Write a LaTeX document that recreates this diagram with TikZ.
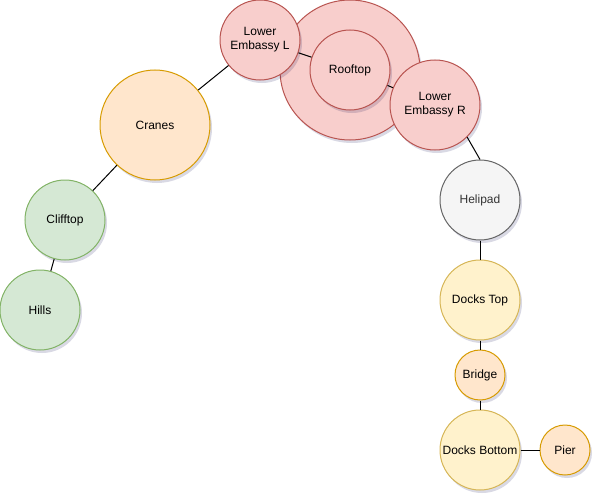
\documentclass[tikz,border=0pt]{standalone}
\usepackage{fontspec}
\setmainfont{Liberation Sans}
\usetikzlibrary{shadows}
\definecolor{redF}{HTML}{F8CECC}\definecolor{redS}{HTML}{B85450}
\definecolor{orgF}{HTML}{FFE6CC}\definecolor{orgS}{HTML}{D79B00}
\definecolor{grnF}{HTML}{D5E8D4}\definecolor{grnS}{HTML}{82B366}
\definecolor{gryF}{HTML}{F5F5F5}\definecolor{gryS}{HTML}{666666}\definecolor{gryT}{HTML}{333333}
\definecolor{ylwF}{HTML}{FFF2CC}\definecolor{ylwS}{HTML}{D6B656}
\tikzset{
  room/.style={circle, line width=1pt, inner sep=0pt, align=center,
    font=\fontsize{12}{14}\selectfont,
    drop shadow={fill=black!70!blue, opacity=0.15, shadow xshift=2pt, shadow yshift=-3pt}},
  red/.style={room, fill=redF, draw=redS},
  org/.style={room, fill=orgF, draw=orgS},
  grn/.style={room, fill=grnF, draw=grnS},
  gry/.style={room, fill=gryF, draw=gryS, text=gryT},
  ylw/.style={room, fill=ylwF, draw=ylwS},
  link/.style={line width=1pt, draw=black},
}
\begin{document}
\begin{tikzpicture}[x=1pt,y=-1pt]
\useasboundingbox (0,0) rectangle (602,503);
\node[red, minimum size=140pt] (outer) at (350,70) {};
\node[red, minimum size=80pt] (lel) at (260,40) {Lower\\Embassy L};
\node[red, minimum size=80pt] (roof) at (350,70) {Rooftop};
\node[red, minimum size=90pt] (ler) at (435,105) {Lower\\Embassy R};
\node[org, minimum size=110pt] (cranes) at (155,125) {Cranes};
\node[grn, minimum size=80pt] (cliff) at (65,220) {Clifftop};
\node[grn, minimum size=80pt] (hills) at (40,310) {Hills};
\node[gry, minimum size=80pt] (heli) at (480,200) {Helipad};
\node[ylw, minimum size=80pt] (dtop) at (480,300) {Docks Top};
\node[org, minimum size=50pt] (bridge) at (480,375) {Bridge};
\node[ylw, minimum size=80pt] (dbot) at (480,450) {Docks Bottom};
\node[org, minimum size=50pt] (pier) at (565,450) {Pier};
\draw[link] (cranes) -- (lel);
\draw[link] (lel) -- (roof);
\draw[link] (roof) -- (ler);
\draw[link] (ler.-45) -- (heli.north);
\draw[link] (cranes) -- (cliff);
\draw[link] (cliff) -- (hills);
\draw[link] (heli) -- (dtop);
\draw[link] (dtop) -- (bridge);
\draw[link] (bridge) -- (dbot);
\draw[link] (dbot) -- (pier);
\end{tikzpicture}
\end{document}
